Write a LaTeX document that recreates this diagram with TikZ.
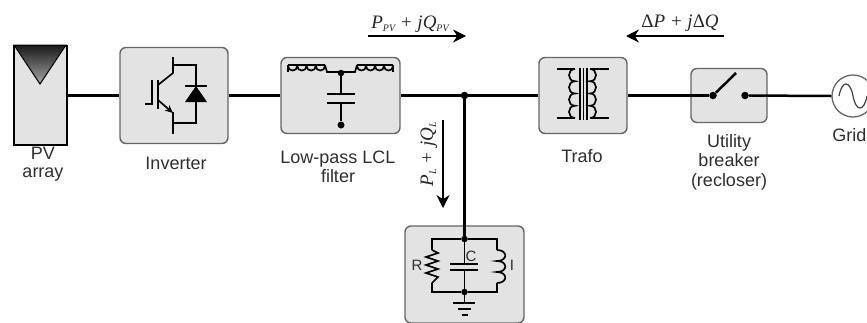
\documentclass[tikz,border=0pt]{standalone}
\usepackage{fontspec}
\setmainfont{Liberation Sans}
\newfontfamily\mathserif{Liberation Serif}
\usetikzlibrary{arrows.meta}
\definecolor{boxfill}{HTML}{E3E3E3}
\definecolor{boxedge}{HTML}{666666}
\definecolor{labelink}{HTML}{2E2E2E}
\tikzset{
  blockbox/.style={draw=boxedge,fill=boxfill,line width=1.4pt,rounded corners=6pt,inner sep=0pt},
  wire/.style={line width=2.5pt,black},
  thinwire/.style={line width=1.7pt,black},
  dotnode/.style={circle,fill=black,inner sep=0pt,minimum size=7.5pt},
  lbl/.style={font=\fontsize{18}{19.5}\selectfont,text=labelink,align=center,inner sep=0pt},
  smalllbl/.style={font=\fontsize{15}{15}\selectfont,text=labelink,inner sep=0pt},
  mathlbl/.style={font=\mathserif\fontsize{19}{20}\selectfont,text=black!85,inner sep=0pt},
  flow/.style={line width=1.2pt,black,-{Stealth[length=13pt,width=13pt]}}
}
\newcommand{\subsc}[1]{\raisebox{-3pt}{\fontsize{10}{10}\selectfont\itshape #1}}
\begin{document}
\begin{tikzpicture}[x=1pt,y=-1pt]
\useasboundingbox (0,0) rectangle (867,322);
% blocks
\node[draw=black,fill=boxfill,line width=2pt,inner sep=0pt,minimum width=53pt,minimum height=99pt] (pv) at (40,95) {};
\node[blockbox,minimum width=108pt,minimum height=96pt] (inv) at (174,95.5) {};
\node[blockbox,minimum width=119pt,minimum height=76pt] (lcl) at (340.5,95.5) {};
\node[blockbox,minimum width=88pt,minimum height=76pt] (trafo) at (583,95.5) {};
\node[blockbox,minimum width=76pt,minimum height=54pt] (brk) at (729,95.5) {};
\node[blockbox,minimum width=119pt,minimum height=97pt] (load) at (464.5,274.5) {};
\node[draw=boxedge,fill=white,circle,line width=1.3pt,inner sep=0pt,minimum size=42pt] (grid) at (853,96) {};
% PV triangle
\shade[top color=black!90,bottom color=black!35,draw=black,line width=1pt] (14,45) -- (66,45) -- (40,84) -- cycle;
% junctions and contacts
\node[dotnode] (j) at (464.5,95.5) {};
\node[dotnode] (bl) at (713,95.5) {};
\node[dotnode] (br) at (745,95.5) {};
\coordinate (armend) at (736,73);
\node[dotnode,minimum size=6.5pt] (lt) at (464.5,239) {};
\node[dotnode,minimum size=6.5pt] (lb) at (464.5,292) {};
% main connectors
\draw[wire] (pv.east |- inv.west) -- (inv.west);
\draw[wire] (inv.east) -- (lcl.west);
\draw[wire] (lcl.east) -- (j);
\draw[wire] (j) -- (trafo.west);
\draw[wire] (trafo.east) -- (bl);
\draw[wire] (br) -- (grid.west);
\draw[wire] (j) -- (lt);
\draw[wire] (bl) -- (armend);
% inverter symbol
\draw[thinwire] (173,57) -- (173,73) -- (158,85);
\draw[thinwire] (158,80) -- (158,109);
\draw[thinwire] (145,104) -- (152,104) -- (152,80);
\draw[thinwire,-{Stealth[length=8pt,width=7pt]}] (158,100) -- (173,113);
\draw[thinwire] (173,112) -- (173,134);
\draw[thinwire] (173,65) -- (196,65) -- (196,123) -- (173,123);
\fill (185,102) -- (207,102) -- (196,86) -- cycle;
\draw[thinwire] (185,86) -- (207,86);
% LCL filter
\draw[line width=2.4pt] (288,65) -- (325,65);
\draw[line width=2.4pt] (357,65) -- (393,65);
\draw[thinwire] (288,72) -- (288,65);
\draw[thinwire] (393,72) -- (393,65);
\draw[line width=1.7pt] (288,66) foreach \i in {1,2,3,4} { .. controls +(0,6) and +(0,6) .. ++(9.25,0) };
\draw[line width=1.7pt] (357,66) foreach \i in {1,2,3,4} { .. controls +(0,6) and +(0,6) .. ++(9,0) };
\draw[thinwire] (325,65) -- (327,72) -- (355,72) -- (357,65);
\node[dotnode,minimum size=6.5pt] (ltop) at (341,73) {};
\node[dotnode,minimum size=7pt] (lbot) at (341,125) {};
\coordinate (cp1) at (341,94);
\coordinate (cp2) at (341,103);
\draw[wire] (ltop) -- (cp1);
\draw[wire] (cp2) -- (lbot);
\draw[wire] (327,94) -- (355,94);
\draw[wire] (327,103) -- (355,103);
% transformer
\draw[line width=1.2pt] (580,68) -- (580,120) (583.5,68) -- (583.5,120) (587,68) -- (587,120);
\draw[thinwire] (557,69) -- (575,69);
\draw[thinwire] (557,118) -- (575,118);
\draw[thinwire] (575,69) foreach \i in {1,2,3,4} { .. controls +(-8,0) and +(-8,0) .. ++(0,12.25) };
\draw[thinwire] (609,69) -- (590,69);
\draw[thinwire] (609,118) -- (590,118);
\draw[thinwire] (590,69) foreach \i in {1,2,3,4} { .. controls +(8,0) and +(8,0) .. ++(0,12.25) };
% grid sine
\draw[line width=1.2pt,black!75] (839,96) .. controls (842,80) and (850,80) .. (853,96) .. controls (856,112) and (864,112) .. (867,96);
% load
\draw[thinwire] (lt) -- (432,239) -- (432,250);
\draw[thinwire] (432,250) -- (438,253) -- (426,257) -- (438,261) -- (426,265) -- (438,269) -- (426,273) -- (438,277) -- (432,283);
\draw[thinwire] (432,283) -- (432,292) -- (lb);
\draw[thinwire] (lt) -- (497,239) -- (497,250);
\draw[thinwire] (497,250) foreach \i in {1,2,3} { .. controls +(11,0) and +(11,0) .. ++(0,11) };
\draw[thinwire] (497,283) -- (497,292) -- (lb);
\coordinate (lc1) at (464.5,264);
\coordinate (lc2) at (464.5,270);
\draw[thinwire] (lt) -- (lc1);
\draw[thinwire] (lc2) -- (lb);
\draw[thinwire] (450,264) -- (478,264);
\draw[thinwire] (450,270) -- (478,270);
\coordinate (g1) at (464.5,303);
\draw[thinwire] (lb) -- (g1);
\draw[thinwire] (453,303) -- (475,303);
\draw[thinwire] (458,309) -- (471,309);
\draw[thinwire] (462,315) -- (468,315);
\node[smalllbl] (rl) at (417,265) {R};
\node[smalllbl] (cl) at (471,256) {C};
\node[smalllbl] (il) at (512,265) {I};
% labels
\node[lbl,font=\fontsize{18}{18}\selectfont] (pvl) at (43,164) {PV\\array};
\node[lbl] (invl) at (176,163) {Inverter};
\node[lbl] (lcll) at (338,167) {Low-pass LCL\\filter};
\node[lbl] (tral) at (582,156) {Trafo};
\node[lbl] (brkl) at (729,162) {Utility\\breaker\\(recloser)};
\node[lbl,anchor=east] (gridl) at (866.5,135) {Grid};
% flows
\coordinate (f1a) at (368,36); \coordinate (f1b) at (466,36);
\coordinate (f2a) at (724,36); \coordinate (f2b) at (626,36);
\coordinate (f3a) at (443,120); \coordinate (f3b) at (443,208);
\draw[flow] (f1a) -- (f1b);
\draw[flow] (f2a) -- (f2b);
\draw[flow] (f3a) -- (f3b);
\node[mathlbl,anchor=base] (m1) at (410,28) {\itshape P\subsc{PV} + jQ\subsc{PV}};
\node[mathlbl,anchor=base] (m2) at (680,27) {\upshape Δ\itshape P + j\upshape Δ\itshape Q};
\node[mathlbl,anchor=base,rotate=90] (m3) at (433,154) {\itshape P\subsc{L} + jQ\subsc{L}};
\end{tikzpicture}
\end{document}
